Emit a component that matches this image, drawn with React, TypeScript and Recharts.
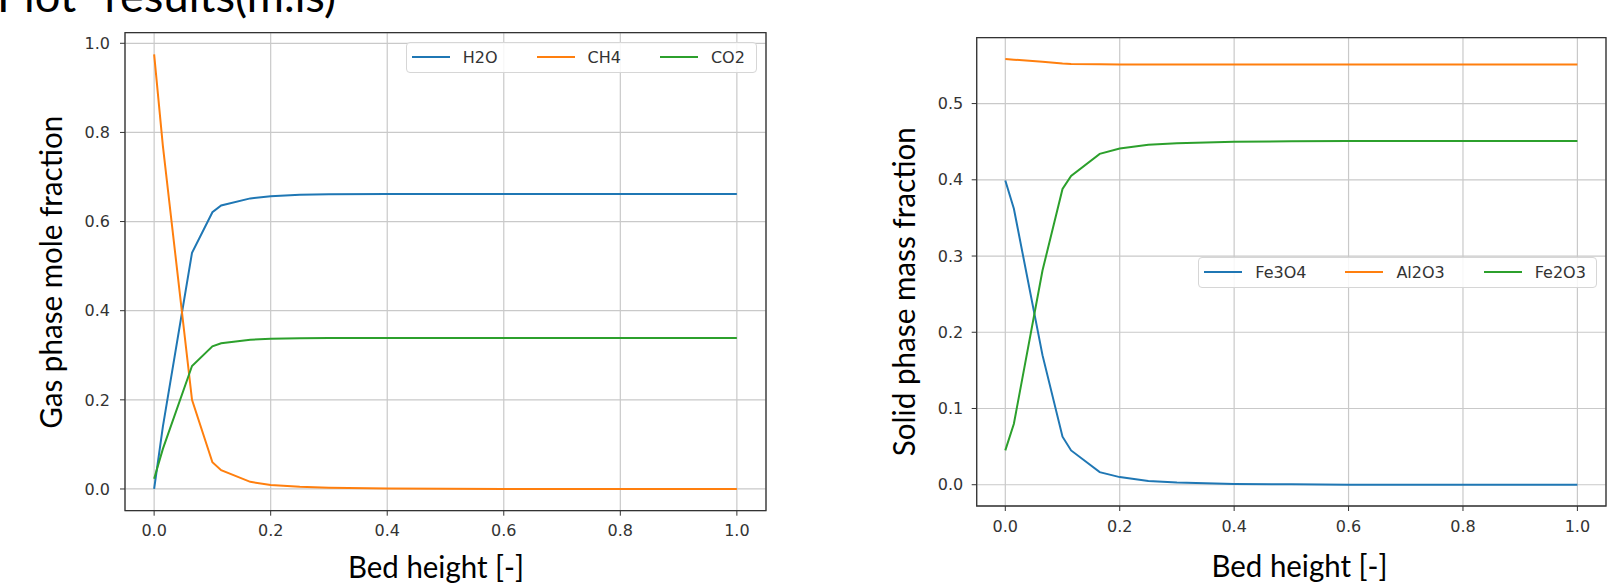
import React from 'react'
import { LineChart, Line, XAxis, YAxis, CartesianGrid, ReferenceArea, Legend } from 'recharts'

// bed height grid (shared by both panels)
const bedHeight = [0, 0.015, 0.065, 0.1, 0.115, 0.165, 0.2, 0.25, 0.3, 0.4, 0.5, 0.6, 0.7, 0.8, 0.9, 1.0]

// gas phase mole fractions
const h2o = [0, 0.14, 0.53, 0.621, 0.636, 0.652, 0.657, 0.66, 0.661, 0.662, 0.662, 0.662, 0.662, 0.662, 0.662, 0.662]
const ch4 = [0.975, 0.77, 0.2, 0.06, 0.042, 0.016, 0.009, 0.005, 0.003, 0.001, 0.0005, 0, 0, 0, 0, 0]
const co2 = [0.023, 0.09, 0.276, 0.32, 0.327, 0.335, 0.337, 0.338, 0.339, 0.339, 0.339, 0.339, 0.339, 0.339, 0.339, 0.339]

// solid phase mass fractions
const fe3o4 = [0.399, 0.362, 0.17, 0.063, 0.045, 0.0165, 0.01, 0.005, 0.003, 0.001, 0.0005, 0, 0, 0, 0, 0]
const al2o3 = [0.5585, 0.5575, 0.555, 0.5525, 0.552, 0.5515, 0.5513, 0.5512, 0.5512, 0.5512, 0.5512, 0.5512, 0.5512, 0.5512, 0.5512, 0.5512]
const fe2o3 = [0.045, 0.08, 0.281, 0.388, 0.405, 0.434, 0.441, 0.446, 0.448, 0.45, 0.4505, 0.451, 0.451, 0.451, 0.451, 0.451]

const gasNames = ['H2O', 'CH4', 'CO2']
const solidNames = ['Fe3O4', 'Al2O3', 'Fe2O3']

const xTicks = [0, 0.2, 0.4, 0.6, 0.8, 1.0]
const gasTicks = [0, 0.2, 0.4, 0.6, 0.8, 1.0]
const solidTicks = [0, 0.1, 0.2, 0.3, 0.4, 0.5]

const X_DOMAIN: [number, number] = [-0.05, 1.05]
const GAS_DOMAIN: [number, number] = [-0.04875, 1.02375]
const SOLID_DOMAIN: [number, number] = [-0.0279, 0.5864]

const COLORS = ['#1f77b4', '#ff7f0e', '#2ca02c']

const gasRows = bedHeight.map((x, i) => ({ x, H2O: h2o[i], CH4: ch4[i], CO2: co2[i] }))
const solidRows = bedHeight.map((x, i) => ({ x, Fe3O4: fe3o4[i], Al2O3: al2o3[i], Fe2O3: fe2o3[i] }))

const tickStyle = { fill: '#333', fontSize: 16, fontFamily: 'DejaVu Sans' }
const fmt = (v: number) => v.toFixed(1)

// matplotlib style legend box, keeps the plotting order
function MplLegend({ names }: { names: string[] }) {
  return (
    <div
      style={{
        boxSizing: 'border-box',
        width: '100%',
        height: '100%',
        border: '1px solid #d6d6d6',
        borderRadius: 4,
        background: 'rgba(255,255,255,0.85)',
        display: 'flex',
        alignItems: 'center',
        paddingLeft: 5,
        fontFamily: 'DejaVu Sans',
        fontSize: 16,
        color: '#333',
      }}
    >
      {names.map((name, i) => (
        <div key={name} style={{ display: 'flex', alignItems: 'center', marginRight: i < names.length - 1 ? 39 : 0 }}>
          <div style={{ width: 38, height: 2, background: COLORS[i], marginRight: 13 }} />
          <span>{name}</span>
        </div>
      ))}
    </div>
  )
}

function GasChart() {
  return (
    <LineChart width={800} height={588} data={gasRows} margin={{ top: 32.7, right: 34, bottom: 47.3, left: 65 }}>
      <CartesianGrid stroke="#c9c9c9" strokeWidth={1.2} />
      <XAxis
        type="number"
        dataKey="x"
        domain={X_DOMAIN}
        ticks={xTicks}
        allowDataOverflow
        height={30}
        tickSize={5}
        tickMargin={9}
        tick={tickStyle}
        tickFormatter={fmt}
        axisLine={false}
        tickLine={{ stroke: '#333' }}
      />
      <YAxis
        type="number"
        domain={GAS_DOMAIN}
        ticks={gasTicks}
        allowDataOverflow
        width={60}
        tickSize={5}
        tickMargin={10}
        tick={tickStyle}
        tickFormatter={fmt}
        axisLine={false}
        tickLine={{ stroke: '#333' }}
      />
      <ReferenceArea
        x1={X_DOMAIN[0]}
        x2={X_DOMAIN[1]}
        y1={GAS_DOMAIN[0]}
        y2={GAS_DOMAIN[1]}
        fill="none"
        stroke="#333"
        strokeWidth={1.3}
        ifOverflow="visible"
      />
      <Legend
        layout="horizontal"
        verticalAlign="middle"
        align="center"
        content={() => <MplLegend names={gasNames} />}
        wrapperStyle={{ left: 405.7, top: 41.7, width: 351, height: 31.6 }}
      />
      {gasNames.map((name, i) => (
        <Line key={name} type="linear" dataKey={name} stroke={COLORS[i]} strokeWidth={2} dot={false} isAnimationActive={false} />
      ))}
    </LineChart>
  )
}

function SolidChart() {
  return (
    <LineChart width={765} height={588} data={solidRows} margin={{ top: 37.7, right: 9, bottom: 52, left: 66.7 }}>
      <CartesianGrid stroke="#c9c9c9" strokeWidth={1.2} />
      <XAxis
        type="number"
        dataKey="x"
        domain={X_DOMAIN}
        ticks={xTicks}
        allowDataOverflow
        height={30}
        tickSize={5}
        tickMargin={10}
        tick={tickStyle}
        tickFormatter={fmt}
        axisLine={false}
        tickLine={{ stroke: '#333' }}
      />
      <YAxis
        type="number"
        domain={SOLID_DOMAIN}
        ticks={solidTicks}
        allowDataOverflow
        width={60}
        tickSize={5}
        tickMargin={8.5}
        tick={tickStyle}
        tickFormatter={fmt}
        axisLine={false}
        tickLine={{ stroke: '#333' }}
      />
      <ReferenceArea
        x1={X_DOMAIN[0]}
        x2={X_DOMAIN[1]}
        y1={SOLID_DOMAIN[0]}
        y2={SOLID_DOMAIN[1]}
        fill="none"
        stroke="#333"
        strokeWidth={1.3}
        ifOverflow="visible"
      />
      <Legend
        layout="horizontal"
        verticalAlign="middle"
        align="center"
        content={() => <MplLegend names={solidNames} />}
        wrapperStyle={{ left: 348.3, top: 256.7, width: 398.4, height: 31.6 }}
      />
      {solidNames.map((name, i) => (
        <Line key={name} type="linear" dataKey={name} stroke={COLORS[i]} strokeWidth={2} dot={false} isAnimationActive={false} />
      ))}
    </LineChart>
  )
}

export default function App() {
  const labelFont = { fontFamily: 'Lato, "Open Sans", sans-serif', fontSize: 31, fill: '#000' }
  return (
    <div style={{ position: 'fixed', left: 0, top: 0, width: 1615, height: 588, overflow: 'hidden', background: '#fff' }}>
      <div style={{ position: 'absolute', left: 0, top: 0 }}>
        <GasChart />
      </div>
      <div style={{ position: 'absolute', left: 850, top: 0 }}>
        <SolidChart />
      </div>
      <svg width={1615} height={588} style={{ position: 'absolute', left: 0, top: 0, pointerEvents: 'none' }}>
        {/* slide title, cut by the top edge as in the screenshot */}
        <text x={-3} y={11.7} textLength={339} lengthAdjust="spacingAndGlyphs" style={{ ...labelFont, fontSize: 45 }}>
          Plot "results(m.ls)
        </text>
        <text x={348} y={578} textLength={176} lengthAdjust="spacingAndGlyphs" style={labelFont}>
          Bed height [-]
        </text>
        <text x={1211.5} y={577} textLength={176} lengthAdjust="spacingAndGlyphs" style={labelFont}>
          Bed height [-]
        </text>
        <text
          x={0}
          y={0}
          transform="translate(61.7 272.3) rotate(-90)"
          textAnchor="middle"
          textLength={313}
          lengthAdjust="spacingAndGlyphs"
          style={labelFont}
        >
          Gas phase mole fraction
        </text>
        <text
          x={0}
          y={0}
          transform="translate(915 291.7) rotate(-90)"
          textAnchor="middle"
          textLength={329}
          lengthAdjust="spacingAndGlyphs"
          style={labelFont}
        >
          Solid phase mass fraction
        </text>
      </svg>
    </div>
  )
}
